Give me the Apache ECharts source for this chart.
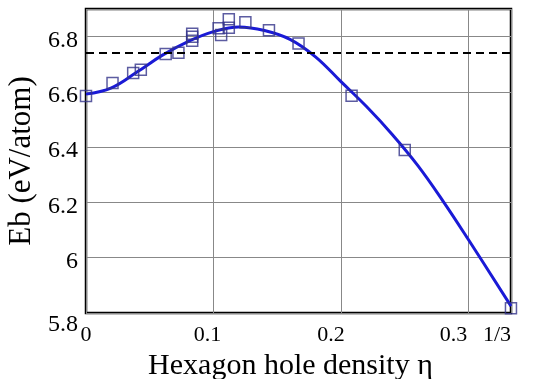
<!DOCTYPE html>
<html>
<head>
<meta charset="utf-8">
<script src="https://cdn.jsdelivr.net/npm/echarts@6/dist/echarts.min.js"></script>
<style>
  html, body { margin: 0; padding: 0; background: #fff; }
  #chart { width: 540px; height: 379px; }
</style>
</head>
<body>
<div id="chart"></div>
<script>
// 计算点 (方块)
const etaPoints = [0, 0.0208, 0.037, 0.043, 0.0625, 0.0725, 0.0833, 0.0833, 0.0833, 0.104, 0.106, 0.112, 0.112, 0.125, 0.1435, 0.1667, 0.2083, 0.25, 0.3333];
const ebPoints = [6.585, 6.632, 6.668, 6.68, 6.737, 6.742, 6.81, 6.80, 6.785, 6.83, 6.806, 6.863, 6.832, 6.852, 6.823, 6.775, 6.586, 6.39, 5.817];

// 拟合曲线
const etaFit = [0, 0.02, 0.04, 0.06, 0.08, 0.10, 0.12, 0.14, 0.16, 0.18, 0.20, 0.22, 0.24, 0.26, 0.28, 0.30, 1 / 3];
const ebFit = [6.592, 6.615, 6.672, 6.733, 6.782, 6.818, 6.835, 6.822, 6.79, 6.727, 6.637, 6.547, 6.447, 6.335, 6.205, 6.065, 5.825];

// 虚线参考值
const refLevel = 6.74;

const font = 'Liberation Serif';
// x 轴标签左移量 (原图标签并不完全居中)
const xShift = { '0': 0, '0.1': 12, '0.2': 20, '0.3': 30 };

let myChart = echarts.init(document.getElementById('chart'));
let option = {
  animation: false,
  grid: {
    left: 86,
    right: 29,
    top: 9,
    bottom: 66,
    outerBoundsMode: 'none',
    show: true,
    borderColor: '#000',
    borderWidth: 2.5
  },
  xAxis: {
    type: 'value',
    min: 0,
    max: 1 / 3,
    interval: 0.1,
    name: 'Hexagon hole density η',
    nameLocation: 'middle',
    nameGap: 30,
    nameTextStyle: { fontFamily: font, fontSize: 30, color: '#000', padding: [0, 16, 0, 0] },
    axisLine: { show: false },
    axisTick: { show: false },
    axisLabel: {
      fontFamily: font,
      fontSize: 22,
      color: '#000',
      margin: 11,
      hideOverlap: false,
      showMaxLabel: true,
      alignMaxLabel: 'right',
      formatter: function (v) {
        if (v > 0.32) return '{t|1/3}';
        let s = String(Number(v.toFixed(1)));
        return '{s' + (xShift[s] || 0) + '|' + s + '}';
      },
      rich: {
        t: { fontFamily: font, fontSize: 22, color: '#000' },
        s0: { fontFamily: font, fontSize: 22, color: '#000' },
        s12: { fontFamily: font, fontSize: 22, color: '#000', padding: [0, 12, 0, 0] },
        s20: { fontFamily: font, fontSize: 22, color: '#000', padding: [0, 20, 0, 0] },
        s30: { fontFamily: font, fontSize: 22, color: '#000', padding: [0, 30, 0, 0] }
      }
    },
    splitLine: { lineStyle: { color: '#888', width: 1 } }
  },
  yAxis: {
    type: 'value',
    min: 5.8,
    max: 6.9,
    interval: 0.2,
    name: 'Eb (eV/atom)',
    nameLocation: 'middle',
    nameGap: 45,
    nameTextStyle: { fontFamily: font, fontSize: 31, color: '#000' },
    axisLine: { show: false },
    axisTick: { show: false },
    axisLabel: {
      fontFamily: font,
      fontSize: 24,
      color: '#000',
      margin: 8,
      showMaxLabel: false,
      formatter: function (v) {
        if (v > 6.85) return '';
        if (v < 5.85) return '{lo|' + Number(v.toFixed(1)) + '}';
        return '{n|' + Number(v.toFixed(1)) + '}';
      },
      rich: {
        n: { fontFamily: font, fontSize: 24, color: '#000', padding: [8, 0, 0, 0] },
        lo: { fontFamily: font, fontSize: 24, color: '#000', padding: [24, 0, 0, 0] }
      }
    },
    splitLine: { lineStyle: { color: '#888', width: 1 } }
  },
  series: [
    {
      name: 'fit',
      type: 'line',
      data: etaFit.map((x, i) => [x, ebFit[i]]),
      smooth: 0.4,
      showSymbol: false,
      lineStyle: { color: '#1a1ad6', width: 3 },
      markLine: {
        silent: true,
        symbol: 'none',
        label: { show: false },
        lineStyle: { color: '#000', type: [8, 5], width: 2 },
        data: [{ yAxis: refLevel }]
      },
      z: 3
    },
    {
      name: 'calc',
      type: 'scatter',
      data: etaPoints.map((x, i) => [x, ebPoints[i]]),
      symbol: 'rect',
      symbolSize: 11,
      clip: false,
      itemStyle: { color: 'rgba(0,0,0,0)', borderColor: '#33338a', borderWidth: 1.5 },
      z: 4
    }
  ]
};
myChart.setOption(option, true);
</script>
</body>
</html>
